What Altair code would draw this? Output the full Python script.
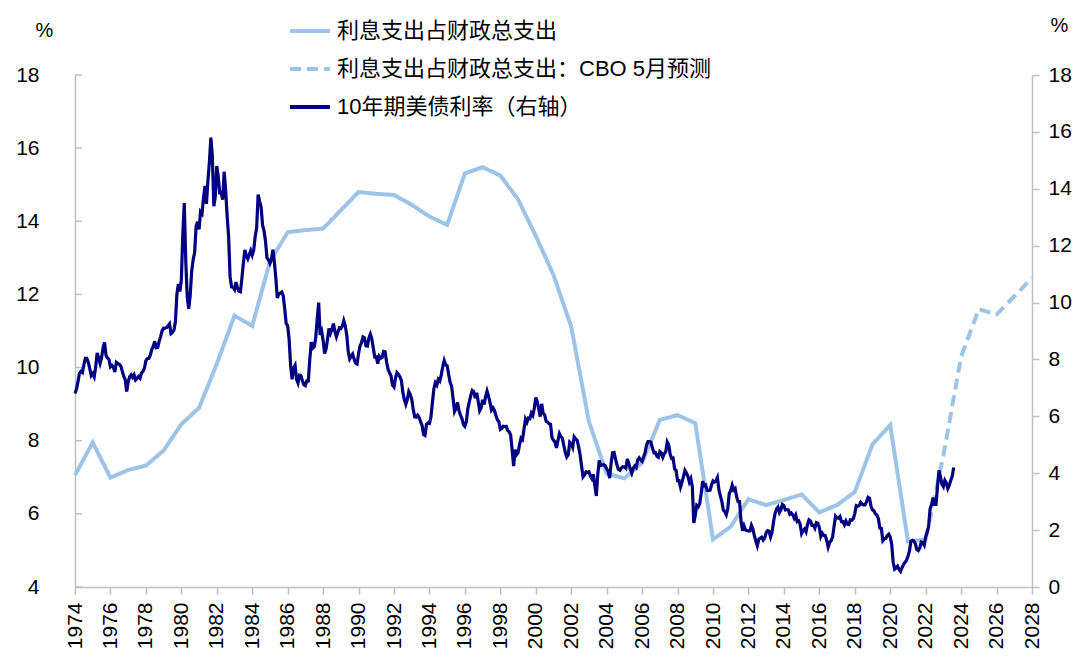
import altair as alt
import pandas as pd

# ---------------- data ----------------
S1 = "利息支出占财政总支出"
S2 = "利息支出占财政总支出：CBO 5月预测"
S3 = "10年期美债利率（右轴）"

share_years = list(range(1974, 2023))
share_vals = [7.06, 7.95, 6.99, 7.20, 7.32, 7.73, 8.45, 8.90, 10.10, 11.42,
              11.14, 12.90, 13.70, 13.76, 13.80, 14.30, 14.80, 14.75, 14.72, 14.45,
              14.13, 13.90, 15.31, 15.48, 15.25, 14.60, 13.60, 12.53, 11.12, 8.52,
              7.10, 6.97, 7.40, 8.57, 8.70, 8.48, 5.30, 5.65, 6.40, 6.24,
              6.38, 6.53, 6.04, 6.24, 6.60, 7.90, 8.43, 5.25, 5.30]

fc_years = [2022, 2023, 2024, 2025, 2026, 2027, 2028]
fc_vals = [5.30, 7.60, 10.30, 11.60, 11.45, 11.95, 12.45]

yield_years = list(range(1974, 2024))
yield_monthly = [
    [6.80, 6.96, 7.21, 7.51, 7.58, 7.54, 7.81, 8.04, 8.04, 7.90, 7.68, 7.43],
    [7.50, 7.39, 7.73, 8.23, 8.06, 7.86, 8.06, 8.40, 8.60, 8.14, 8.05, 8.00],
    [7.74, 7.79, 7.73, 7.56, 7.90, 7.86, 7.83, 7.77, 7.59, 7.41, 7.29, 6.87],
    [7.21, 7.39, 7.46, 7.37, 7.46, 7.28, 7.33, 7.40, 7.34, 7.52, 7.58, 7.69],
    [7.96, 8.03, 8.04, 8.15, 8.35, 8.46, 8.64, 8.41, 8.42, 8.64, 8.81, 9.01],
    [9.10, 9.10, 9.12, 9.18, 9.25, 8.91, 8.95, 9.03, 9.33, 10.30, 10.65, 10.39],
    [10.80, 12.41, 13.50, 11.47, 10.18, 9.78, 10.25, 11.10, 11.51, 11.75, 12.68, 12.84],
    [12.57, 13.19, 13.12, 13.68, 14.10, 13.47, 14.28, 14.94, 15.80, 15.15, 13.39, 13.72],
    [14.80, 14.43, 13.86, 13.87, 13.62, 14.60, 13.95, 13.06, 12.34, 10.91, 10.55, 10.54],
    [10.46, 10.72, 10.51, 10.40, 10.38, 10.85, 11.38, 11.85, 11.65, 11.54, 11.69, 11.83],
    [11.67, 11.84, 12.32, 12.63, 13.80, 13.56, 13.36, 12.72, 12.52, 12.16, 11.57, 11.50],
    [11.38, 11.51, 11.86, 11.43, 10.85, 10.16, 10.31, 10.33, 10.37, 10.24, 9.78, 9.26],
    [9.19, 8.70, 7.78, 7.30, 7.71, 7.80, 7.30, 7.17, 7.45, 7.43, 7.25, 7.11],
    [7.08, 7.25, 7.25, 8.02, 8.61, 8.40, 8.45, 8.76, 9.42, 10.00, 8.86, 8.99],
    [8.67, 8.21, 8.37, 8.72, 9.09, 8.92, 9.06, 9.26, 8.98, 8.80, 8.96, 9.11],
    [9.09, 9.17, 9.36, 9.18, 8.86, 8.28, 8.02, 8.11, 8.19, 8.01, 7.87, 7.84],
    [8.21, 8.47, 8.59, 8.79, 8.76, 8.48, 8.47, 8.75, 8.89, 8.72, 8.39, 8.08],
    [8.09, 7.85, 8.11, 8.04, 8.07, 8.28, 8.27, 7.90, 7.65, 7.53, 7.42, 7.09],
    [7.03, 7.34, 7.54, 7.48, 7.39, 7.26, 6.84, 6.59, 6.42, 6.59, 6.87, 6.77],
    [6.60, 6.26, 5.98, 5.97, 6.04, 5.96, 5.81, 5.68, 5.36, 5.33, 5.72, 5.77],
    [5.75, 5.97, 6.48, 6.97, 7.18, 7.10, 7.30, 7.24, 7.46, 7.74, 7.96, 7.81],
    [7.78, 7.47, 7.20, 7.06, 6.63, 6.17, 6.28, 6.49, 6.20, 6.04, 5.93, 5.71],
    [5.65, 5.81, 6.27, 6.51, 6.74, 6.91, 6.87, 6.64, 6.83, 6.53, 6.20, 6.30],
    [6.58, 6.42, 6.69, 6.89, 6.71, 6.49, 6.22, 6.30, 6.21, 6.03, 5.88, 5.81],
    [5.54, 5.57, 5.65, 5.64, 5.65, 5.50, 5.46, 5.34, 4.81, 4.25, 4.83, 4.65],
    [4.72, 5.00, 5.23, 5.18, 5.54, 5.90, 5.79, 5.94, 5.92, 6.11, 6.03, 6.28],
    [6.66, 6.52, 6.26, 5.99, 6.44, 6.10, 6.05, 5.83, 5.80, 5.74, 5.72, 5.24],
    [5.16, 5.10, 4.89, 5.14, 5.39, 5.28, 5.24, 4.97, 4.73, 4.57, 4.65, 5.09],
    [5.04, 4.91, 5.28, 5.21, 5.16, 4.93, 4.65, 4.26, 3.87, 3.94, 4.05, 4.03],
    [4.05, 3.90, 3.81, 3.96, 3.57, 3.20, 3.98, 4.45, 4.27, 4.29, 4.30, 4.27],
    [4.15, 4.08, 3.83, 4.35, 4.72, 4.73, 4.50, 4.28, 4.13, 4.10, 4.19, 4.23],
    [4.22, 4.17, 4.50, 4.34, 4.14, 4.00, 4.18, 4.26, 4.20, 4.46, 4.54, 4.47],
    [4.42, 4.57, 4.72, 4.99, 5.11, 5.11, 5.09, 4.88, 4.72, 4.73, 4.60, 4.56],
    [4.76, 4.72, 4.56, 4.69, 4.75, 5.10, 5.00, 4.67, 4.52, 4.53, 4.15, 4.10],
    [3.74, 3.74, 3.51, 3.68, 3.88, 4.10, 4.01, 3.89, 3.69, 3.81, 3.53, 2.25],
    [2.52, 2.87, 2.82, 2.93, 3.29, 3.72, 3.56, 3.59, 3.40, 3.39, 3.40, 3.59],
    [3.73, 3.69, 3.73, 3.85, 3.42, 3.20, 3.01, 2.70, 2.65, 2.54, 2.76, 3.29],
    [3.39, 3.58, 3.41, 3.46, 3.17, 3.00, 3.00, 2.30, 1.98, 2.15, 2.01, 1.98],
    [1.97, 1.97, 2.17, 2.05, 1.80, 1.62, 1.45, 1.68, 1.72, 1.75, 1.65, 1.72],
    [1.91, 1.98, 1.96, 1.76, 1.93, 2.30, 2.58, 2.74, 2.81, 2.62, 2.72, 2.90],
    [2.86, 2.71, 2.72, 2.71, 2.56, 2.60, 2.54, 2.42, 2.53, 2.30, 2.33, 2.21],
    [1.88, 1.98, 2.04, 1.94, 2.20, 2.36, 2.32, 2.17, 2.17, 2.07, 2.26, 2.24],
    [2.09, 1.78, 1.89, 1.81, 1.81, 1.64, 1.40, 1.56, 1.63, 1.76, 2.14, 2.49],
    [2.43, 2.42, 2.48, 2.30, 2.30, 2.19, 2.32, 2.21, 2.20, 2.36, 2.35, 2.40],
    [2.58, 2.86, 2.84, 2.87, 2.98, 2.91, 2.89, 2.89, 3.00, 3.15, 3.12, 2.83],
    [2.71, 2.68, 2.57, 2.53, 2.40, 2.07, 2.06, 1.63, 1.70, 1.71, 1.81, 1.86],
    [1.76, 1.50, 0.87, 0.63, 0.67, 0.73, 0.62, 0.55, 0.68, 0.79, 0.87, 0.93],
    [1.08, 1.26, 1.61, 1.64, 1.62, 1.52, 1.32, 1.28, 1.37, 1.58, 1.56, 1.47],
    [1.76, 1.93, 2.13, 2.75, 2.90, 3.14, 2.90, 2.90, 3.52, 4.10, 3.89, 3.62],
    [3.53, 3.75, 3.66, 3.46, 3.57, 3.75, 3.90, 4.20],
]

x_ticks = list(range(1974, 2029, 2))
left_ticks = list(range(4, 19, 2))
right_ticks = list(range(0, 19, 2))

# ---------------- tables ----------------
df_share = pd.DataFrame({"x": share_years, "v": share_vals, "s": S1})
df_fc = pd.DataFrame({"x": fc_years, "v": fc_vals, "s": S2})
rows = []
for yr, vals in zip(yield_years, yield_monthly):
    for m, v in enumerate(vals):
        rows.append({"x": yr + m / 12.0, "v": v, "s": S3})
df_yield = pd.DataFrame(rows)
df_lt = pd.DataFrame({"t": left_ticks})

LB = "#9DC3E6"
NAVY = "#000080"
GRAY = "#BFBFBF"

xscale = alt.Scale(domain=[1974, 2028], nice=False, zero=False)
xaxis = alt.Axis(values=x_ticks, format="d", labelAngle=270, tickSize=7,
                 labelPadding=8, title=None, grid=False)

yl_scale = alt.Scale(domain=[4, 18], nice=False, zero=False)
yl_axis = alt.Axis(values=left_ticks, ticks=False, labelPadding=36, title="%",
                   titleAngle=0, titleX=-31, titleY=-45, titleAlign="center",
                   titleBaseline="middle", grid=False)
yr_scale = alt.Scale(domain=[0, 18], nice=False)
yr_axis = alt.Axis(orient="right", values=right_ticks, tickSize=7, labelPadding=9,
                   title="%", titleAngle=0, titleX=27, titleY=-50,
                   titleAlign="center", titleBaseline="middle", grid=False)

legend = alt.Legend(title=None, orient="none", legendX=213, legendY=-66,
                    symbolType="stroke", symbolSize=1600, symbolStrokeWidth=4,
                    labelFontSize=22, labelFont="Liberation Sans, Noto Sans CJK SC",
                    labelColor="black", labelLimit=800, labelOffset=5,
                    rowPadding=5, padding=0)
color = alt.Color("s:N", scale=alt.Scale(domain=[S1, S2, S3], range=[LB, LB, NAVY]),
                  legend=legend)
dash = alt.StrokeDash("s:N", scale=alt.Scale(domain=[S1, S2, S3],
                                             range=[[1, 0], [11, 6], [1, 0]]),
                      legend=legend)

solid = alt.Chart(df_share).mark_line(strokeWidth=4).encode(
    x=alt.X("x:Q", scale=xscale, axis=xaxis),
    y=alt.Y("v:Q", scale=yl_scale, axis=yl_axis),
    color=color, strokeDash=dash)
forecast = alt.Chart(df_fc).mark_line(strokeWidth=4).encode(
    x=alt.X("x:Q", scale=xscale, axis=xaxis),
    y=alt.Y("v:Q", scale=yl_scale, axis=yl_axis),
    color=color, strokeDash=dash)
lticks = alt.Chart(df_lt).mark_rule(color=GRAY, strokeWidth=1.5).encode(
    y=alt.Y("t:Q", scale=yl_scale, axis=yl_axis),
    x=alt.value(0), x2=alt.value(7))
left = alt.layer(solid, forecast, lticks)

right = alt.Chart(df_yield).mark_line(strokeWidth=3.2).encode(
    x=alt.X("x:Q", scale=xscale, axis=xaxis),
    y=alt.Y("v:Q", scale=yr_scale, axis=yr_axis),
    color=color, strokeDash=dash)

chart = alt.layer(left, right).resolve_scale(y="independent").properties(
    width=957, height=512,
    autosize=alt.AutoSizeParams(type="none"),
    padding={"left": 67, "top": 67, "right": 40, "bottom": 80},
).configure_view(stroke=None).configure_axis(
    domainColor=GRAY, domainWidth=1.5, tickColor=GRAY, tickWidth=1.5,
    labelFont="Liberation Sans", labelFontSize=21, labelColor="black",
    titleFont="Liberation Sans", titleFontSize=20, titleFontWeight="normal",
    titleColor="black", grid=False,
)

chart.save("out.html", embed_options={"renderer": "svg", "actions": False})
